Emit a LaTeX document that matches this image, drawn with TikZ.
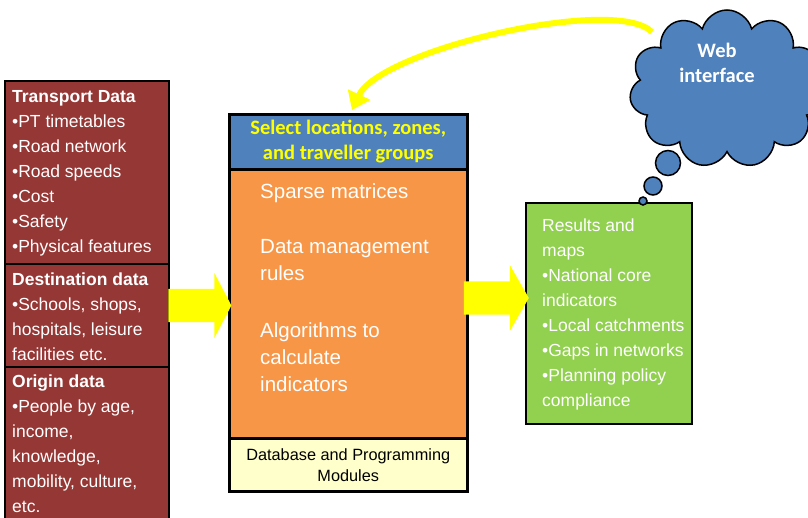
\documentclass[tikz,border=0pt]{standalone}
\usepackage{fontspec}
\setmainfont{Liberation Sans}
\newfontfamily\calfont{Carlito}
\usetikzlibrary{shapes.symbols,shapes.arrows,arrows.meta}
\definecolor{dred}{HTML}{953735}
\definecolor{hblue}{HTML}{4F81BD}
\definecolor{orng}{HTML}{F79646}
\definecolor{lgreen}{HTML}{92D050}
\definecolor{lyel}{HTML}{FFFFCC}
\definecolor{yel}{HTML}{FFFF00}
\begin{document}
\begin{tikzpicture}[x=1pt,y=-1pt,
  box/.style={draw=black, line width=1.5, anchor=north west, inner sep=0},
  txt/.style={anchor=north west, inner sep=0, align=left, text=white, font=\fontsize{17.5}{25}\selectfont},
  bigtxt/.style={anchor=north west, inner sep=0, align=left, text=white, font=\fontsize{20.5}{27}\selectfont},
  blockarrow/.style={single arrow, fill=yel, inner sep=0, text width=0pt, text height=16.5pt, text depth=16.5pt},
  bubble/.style={circle, draw=black, line width=1.5, fill=hblue, inner sep=0}]
\useasboundingbox (0,0) rectangle (808,517);
\clip (0,0) rectangle (808,517);

% left boxes
\node[box, fill=dred, minimum width=164, minimum height=183] (trans) at (4,80) {};
\node[box, fill=dred, minimum width=164, minimum height=103] (dest) at (4,263) {};
\node[box, fill=dred, minimum width=164, minimum height=165] (orig) at (4,366) {};
\node[txt] (transT) at (12,90) {\textbf{Transport Data}\\•PT timetables\\•Road network\\•Road speeds\\•Cost\\•Safety\\•Physical features};
\node[txt] (destT) at (12,273) {\textbf{Destination data}\\•Schools, shops,\\hospitals, leisure\\facilities etc.};
\node[txt] (origT) at (12,375) {\textbf{Origin data}\\•People by age,\\income,\\knowledge,\\mobility, culture,\\etc.};

% centre column
\node[box, line width=2.5, fill=hblue, minimum width=238, minimum height=55] (hdr) at (228,113) {};
\node[box, line width=2.5, fill=orng, minimum width=238, minimum height=269] (mid) at (228,168) {};
\node[box, line width=2.5, fill=lyel, minimum width=238, minimum height=53] (db) at (228,437) {};
\node[font=\calfont\bfseries\fontsize{20.5}{25}\selectfont, text=yel, align=center, inner sep=0] (hdrT) at (hdr.center) {Select locations, zones,\\and traveller groups};
\node[bigtxt] (spT) at (260,183) {Sparse matrices};
\node[bigtxt] (dmT) at (260,239) {Data management\\rules};
\node[bigtxt] (alT) at (260,322) {Algorithms to\\calculate\\indicators};
\node[font=\fontsize{16.3}{21}\selectfont, align=center, inner sep=0] (dbT) at (db.center) {Database and Programming\\Modules};

% results
\node[box, fill=lgreen, minimum width=166, minimum height=221] (res) at (525,202) {};
\node[txt] (resT) at (542,219) {Results and\\maps\\•National core\\indicators\\•Local catchments\\•Gaps in networks\\•Planning policy\\compliance};

% block arrows
\node[blockarrow, minimum height=63, single arrow head extend=16, single arrow tip angle=124.8] (la) at (195.5,305.5) {};
\node[blockarrow, minimum height=65, single arrow head extend=16, single arrow tip angle=120.1] (ra) at (491.5,298) {};

% cloud
\node[cloud, draw=black, line width=1.5, fill=hblue, cloud puffs=11, aspect=1.25, minimum width=195, minimum height=158, inner sep=0] (web) at (727,89) {};
\node[font=\calfont\bfseries\fontsize{20.5}{25}\selectfont, text=white, align=center, inner sep=0] (webT) at (717,63) {Web\\interface};
\node[bubble, minimum size=25] (b1) at (668,163) {};
\node[bubble, minimum size=18] (b2) at (653,186) {};
\node[bubble, minimum size=8] (b3) at (643,201) {};

% curved arrow
\coordinate (ys) at (652,32);
\coordinate (ye) at (352,110);
\draw[yel, line width=6, -{Triangle[length=17pt,width=24pt]}] (ys) .. controls (615,-5) and (380,50) .. (ye);
\end{tikzpicture}
\end{document}
